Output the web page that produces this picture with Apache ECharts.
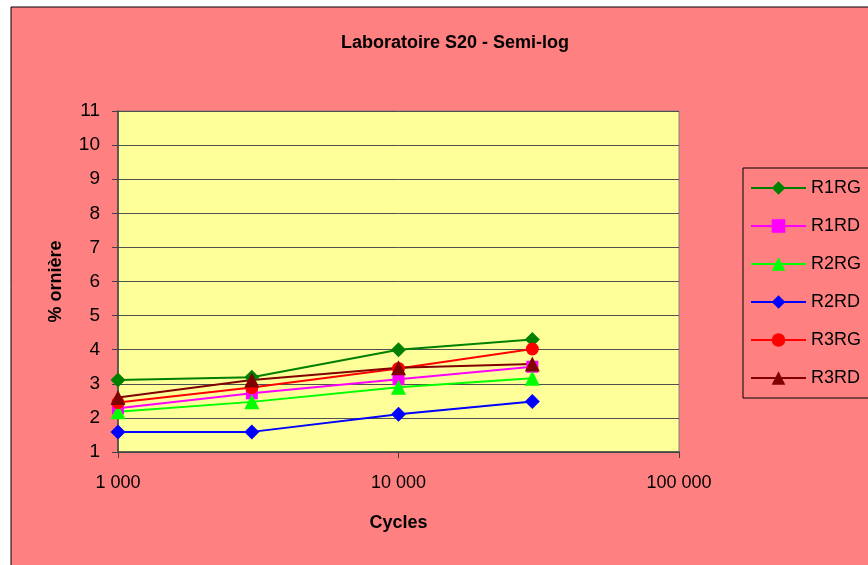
<!DOCTYPE html>
<html>
<head>
<meta charset="utf-8">
<script src="https://cdn.jsdelivr.net/npm/echarts@6/dist/echarts.min.js"></script>
<style>
  html, body { margin: 0; padding: 0; background: #fff; }
  #chart { width: 868px; height: 565px; }
</style>
</head>
<body>
<div id="chart"></div>
<script>
  // cycles (log scale)
  var cycles = [1000, 3000, 10000, 30000]
  var seriesNames = ['R1RG', 'R1RD', 'R2RG', 'R2RD', 'R3RG', 'R3RD']
  var r1rg = [3.11, 3.19, 4.0, 4.30]
  var r1rd = [2.28, 2.72, 3.13, 3.50]
  var r2rg = [2.18, 2.47, 2.90, 3.16]
  var r2rd = [1.59, 1.59, 2.11, 2.48]
  var r3rg = [2.45, 2.89, 3.45, 4.02]
  var r3rd = [2.60, 3.11, 3.47, 3.58]
  var yTicks = [1, 11, 1] // min, max, step

  var values = [r1rg, r1rd, r2rg, r2rd, r3rg, r3rd]
  var colors = ['#008000', '#FF00FF', '#00FF00', '#0000FF', '#FF0000', '#800000']
  var symbols = ['diamond', 'rect', 'triangle', 'diamond', 'circle', 'triangle']
  var sizes = [15, 12, 15, 15, 13, 15]

  var font = '"Liberation Sans", Arial, sans-serif'

  var chart = echarts.init(document.getElementById('chart'))
  var series = []
  for (var i = 0; i < values.length; i++) {
    var pts = []
    for (var j = 0; j < cycles.length; j++) {
      pts.push([cycles[j], values[i][j]])
    }
    series.push({
      name: seriesNames[i],
      type: 'line',
      symbol: symbols[i],
      symbolSize: sizes[i],
      showAllSymbol: true,
      lineStyle: { color: colors[i], width: 2 },
      itemStyle: { color: colors[i] },
      data: pts
    })
  }

  function fmtNum(v) {
    return String(Math.round(v)).replace(/\B(?=(\d{3})+(?!\d))/g, ' ')
  }

  chart.setOption({
    backgroundColor: '#ffffff',
    animation: false,
    color: colors,
    graphic: [{
      type: 'rect',
      z: -10,
      shape: { x: 11, y: 7, width: 900, height: 600 },
      style: { fill: '#FF8080', stroke: '#000', lineWidth: 1 }
    }],
    title: {
      text: 'Laboratoire S20 - Semi-log',
      left: 450,
      top: 29,
      textAlign: 'center',
      textStyle: { fontFamily: font, fontSize: 18, fontWeight: 'bold', color: '#000' }
    },
    legend: {
      orient: 'vertical',
      left: 743,
      top: 168,
      padding: [11, 30, 11, 7],
      itemWidth: 55,
      itemHeight: 17,
      itemGap: 20,
      borderColor: '#000',
      borderWidth: 1,
      textStyle: { fontFamily: font, fontSize: 18, color: '#000' },
      data: seriesNames
    },
    grid: {
      left: 118,
      top: 111,
      right: 189,
      bottom: 113,
      show: true,
      backgroundColor: '#FFFF99',
      borderColor: '#808080',
      borderWidth: 1
    },
    xAxis: {
      type: 'log',
      logBase: 10,
      min: 1000,
      max: 100000,
      name: 'Cycles',
      nameLocation: 'middle',
      nameGap: 62,
      nameTextStyle: { fontFamily: font, fontSize: 18, fontWeight: 'bold', color: '#000' },
      axisLine: { lineStyle: { color: '#404040', width: 1.5 } },
      axisTick: { show: true, length: 6, lineStyle: { color: '#404040' } },
      minorTick: { show: false },
      splitLine: { show: false },
      axisLabel: {
        margin: 22,
        fontFamily: font,
        fontSize: 18,
        color: '#000',
        formatter: function (v) { return fmtNum(v) }
      }
    },
    yAxis: {
      type: 'value',
      min: yTicks[0],
      max: yTicks[1],
      interval: yTicks[2],
      name: '% ornière',
      nameLocation: 'middle',
      nameGap: 53,
      nameTextStyle: { fontFamily: font, fontSize: 18, fontWeight: 'bold', color: '#000' },
      axisLine: { show: true, lineStyle: { color: '#404040', width: 1.5 } },
      axisTick: { show: true, length: 6, lineStyle: { color: '#404040' } },
      splitLine: { show: true, lineStyle: { color: '#505050', width: 1 } },
      axisLabel: {
        margin: 18,
        fontFamily: font,
        fontSize: 19,
        color: '#000'
      }
    },
    series: series
  })
</script>
</body>
</html>
